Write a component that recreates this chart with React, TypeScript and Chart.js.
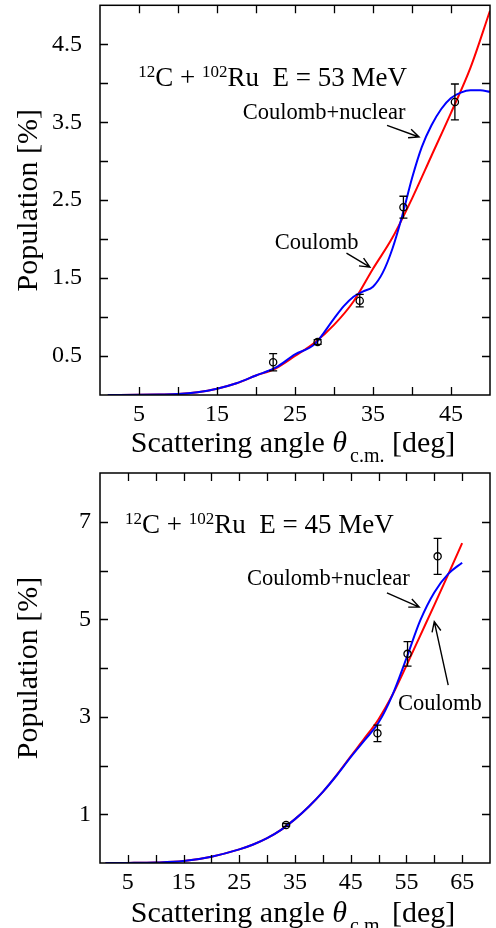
import React, { useEffect, useRef } from 'react';
import { Chart, registerables } from 'chart.js';

Chart.register(...registerables);

const FONT = '"Liberation Serif", "Times New Roman", Times, serif';

// ---------- Top panel (E = 53 MeV) ----------
const topCoulombAngles = [1, 2.5, 5, 7.5, 10, 12.5, 15, 17.5, 20, 22.5, 25, 27.5, 30, 32.5, 35, 37.5, 40, 42.5, 45, 47.5, 50];
const topCoulombValues = [0, 0, 0.002, 0.006, 0.012, 0.035, 0.08, 0.15, 0.25, 0.34, 0.5, 0.67, 0.9, 1.2, 1.62, 2.02, 2.52, 3.07, 3.62, 4.2, 4.93];
const topNuclearAngles = [1, 2.5, 5, 7.5, 10, 12.5, 15, 17.5, 20, 22.5, 25, 27.5, 30, 31.25, 32.5, 33.75, 35, 36.25, 37.5, 38.75, 40, 41.25, 42.5, 43.75, 45, 46.25, 47.5, 48.75, 50];
const topNuclearValues = [0, 0, 0.002, 0.006, 0.012, 0.035, 0.08, 0.15, 0.25, 0.35, 0.52, 0.65, 0.98, 1.14, 1.26, 1.33, 1.39, 1.57, 1.88, 2.3, 2.78, 3.18, 3.46, 3.67, 3.81, 3.88, 3.91, 3.91, 3.89];
const topExpAngles = [22.2, 27.9, 33.3, 38.9, 45.5];
const topExpValues = [0.42, 0.68, 1.21, 2.41, 3.76];
const topExpErrors = [0.11, 0.03, 0.08, 0.14, 0.23];

// ---------- Bottom panel (E = 45 MeV) ----------
const botCoulombAngles = [1, 5, 10, 15, 20, 25, 27.5, 30, 32.5, 35, 37.5, 40, 42.5, 45, 47.5, 50, 52.5, 55, 57.5, 60, 62.5, 65];
const botCoulombValues = [0, 0.002, 0.01, 0.04, 0.13, 0.28, 0.38, 0.51, 0.68, 0.9, 1.16, 1.46, 1.81, 2.19, 2.56, 2.95, 3.45, 4.05, 4.67, 5.29, 5.92, 6.56];
const botNuclearAngles = [1, 5, 10, 15, 20, 25, 27.5, 30, 32.5, 35, 37.5, 40, 42.5, 45, 47.5, 50, 52.5, 55, 57.5, 60, 62.5, 65];
const botNuclearValues = [0, 0.002, 0.01, 0.04, 0.13, 0.28, 0.38, 0.51, 0.68, 0.9, 1.16, 1.46, 1.8, 2.17, 2.52, 2.88, 3.45, 4.2, 4.98, 5.55, 5.93, 6.16];
const botExpAngles = [33.4, 49.8, 55.2, 60.6];
const botExpValues = [0.78, 2.66, 4.29, 6.29];
const botExpErrors = [0.03, 0.17, 0.25, 0.37];

// ---------- Axis / tick labels ----------
const topXTickLabels = ['5', '15', '25', '35', '45'];
const topYTickLabels = ['0.5', '1.5', '2.5', '3.5', '4.5'];
const botXTickLabels = ['5', '15', '25', '35', '45', '55', '65'];
const botYTickLabels = ['1', '3', '5', '7'];
const xTitleMain = 'Scattering angle ';
const xTitleSymbol = 'θ';
const xTitleSub = 'c.m.';
const xTitleUnit = ' [deg]';
const yTitle = 'Population [%]';
const labelCoulomb = 'Coulomb';
const labelNuclear = 'Coulomb+nuclear';

type Annot = { text: string; x: number; y: number };
type Arrow = { x1: number; y1: number; x2: number; y2: number };

type PanelCfg = {
  height: number;
  xMax: number;
  yMax: number;
  yStep: number;
  xLabels: string[];
  yLabels: string[];
  energy: string;
  titlePos: { x: number; y: number };
  annots: Annot[];
  arrows: Arrow[];
  coulomb: { x: number; y: number }[];
  nuclear: { x: number; y: number }[];
  exp: { x: number; y: number }[];
  errs: number[];
  padTop: number;
  xAxisH: number;
  yTickPad: number;
  titleOffset: number;
};

const zip = (xs: number[], ys: number[]) => xs.map((x, i) => ({ x, y: ys[i] }));

const topCfg: PanelCfg = {
  height: 464,
  xMax: 50,
  yMax: 5,
  yStep: 0.5,
  xLabels: topXTickLabels,
  yLabels: topYTickLabels,
  energy: 'E = 53 MeV',
  titlePos: { x: 4.9, y: 3.96 },
  annots: [
    { text: labelNuclear, x: 18.3, y: 3.54 },
    { text: labelCoulomb, x: 22.4, y: 1.87 },
  ],
  arrows: [
    { x1: 36.8, y1: 3.46, x2: 40.9, y2: 3.31 },
    { x1: 31.6, y1: 1.82, x2: 34.6, y2: 1.64 },
  ],
  coulomb: zip(topCoulombAngles, topCoulombValues),
  nuclear: zip(topNuclearAngles, topNuclearValues),
  exp: zip(topExpAngles, topExpValues),
  errs: topExpErrors,
  padTop: 4,
  xAxisH: 69,
  yTickPad: 18,
  titleOffset: 57,
};

const botCfg: PanelCfg = {
  height: 464,
  xMax: 70,
  yMax: 8,
  yStep: 1,
  xLabels: botXTickLabels,
  yLabels: botYTickLabels,
  energy: 'E = 45 MeV',
  titlePos: { x: 4.5, y: 6.77 },
  annots: [
    { text: labelNuclear, x: 26.4, y: 5.7 },
    { text: labelCoulomb, x: 53.5, y: 3.14 },
  ],
  arrows: [
    { x1: 51.5, y1: 5.54, x2: 57.3, y2: 5.25 },
    { x1: 62.5, y1: 3.65, x2: 60.0, y2: 4.95 },
  ],
  coulomb: zip(botCoulombAngles, botCoulombValues),
  nuclear: zip(botNuclearAngles, botNuclearValues),
  exp: zip(botExpAngles, botExpValues),
  errs: botExpErrors,
  padTop: 9,
  xAxisH: 65,
  yTickPad: 9,
  titleOffset: 59,
};

function makeFramePlugin(cfg: PanelCfg) {
  return {
    id: 'framePlugin',
    afterDatasetsDraw(chart: any) {
      const ctx = chart.ctx as CanvasRenderingContext2D;
      const xs = chart.scales.x;
      const ys = chart.scales.y;
      // error bars
      ctx.save();
      ctx.strokeStyle = '#000';
      ctx.lineWidth = 1.3;
      cfg.exp.forEach((p, i) => {
        const px = xs.getPixelForValue(p.x);
        const pTop = ys.getPixelForValue(p.y + cfg.errs[i]);
        const pBot = ys.getPixelForValue(p.y - cfg.errs[i]);
        const cap = 4;
        ctx.beginPath();
        ctx.moveTo(px, pTop);
        ctx.lineTo(px, pBot);
        ctx.moveTo(px - cap, pTop);
        ctx.lineTo(px + cap, pTop);
        ctx.moveTo(px - cap, pBot);
        ctx.lineTo(px + cap, pBot);
        ctx.stroke();
      });
      ctx.restore();
    },
    afterDraw(chart: any) {
      const ctx = chart.ctx as CanvasRenderingContext2D;
      const xs = chart.scales.x;
      const ys = chart.scales.y;
      const a = chart.chartArea;
      ctx.save();
      ctx.strokeStyle = '#000';
      ctx.lineWidth = 1.5;
      ctx.strokeRect(a.left, a.top, a.right - a.left, a.bottom - a.top);
      const tl = 8;
      ctx.lineWidth = 1.3;
      ctx.beginPath();
      xs.ticks.forEach((t: any) => {
        const px = Math.round(xs.getPixelForValue(t.value)) + 0.5;
        if (px <= a.left + 1 || px >= a.right - 1) return;
        ctx.moveTo(px, a.bottom);
        ctx.lineTo(px, a.bottom - tl);
        ctx.moveTo(px, a.top);
        ctx.lineTo(px, a.top + tl);
      });
      ys.ticks.forEach((t: any) => {
        const py = Math.round(ys.getPixelForValue(t.value)) + 0.5;
        if (py <= a.top + 1 || py >= a.bottom - 1) return;
        ctx.moveTo(a.left, py);
        ctx.lineTo(a.left + tl, py);
        ctx.moveTo(a.right, py);
        ctx.lineTo(a.right - tl, py);
      });
      ctx.stroke();

      ctx.fillStyle = '#000';
      ctx.textBaseline = 'alphabetic';
      // x-axis title with italic theta and subscript
      const mainF = `30px ${FONT}`;
      const italF = `italic 30px ${FONT}`;
      const subF = `20px ${FONT}`;
      ctx.font = mainF;
      const w1 = ctx.measureText(xTitleMain).width;
      const w4 = ctx.measureText(xTitleUnit).width;
      ctx.font = italF;
      const w2 = ctx.measureText(xTitleSymbol).width;
      ctx.font = subF;
      const w3 = ctx.measureText(xTitleSub).width;
      const total = w1 + w2 + 3 + w3 + w4;
      let x0 = (a.left + a.right) / 2 - total / 2 - 2;
      const by = a.bottom + cfg.titleOffset;
      ctx.textAlign = 'left';
      ctx.font = mainF;
      ctx.fillText(xTitleMain, x0, by);
      x0 += w1;
      ctx.font = italF;
      ctx.fillText(xTitleSymbol, x0, by);
      x0 += w2 + 3;
      ctx.font = subF;
      ctx.fillText(xTitleSub, x0, by + 10);
      x0 += w3;
      ctx.font = mainF;
      ctx.fillText(xTitleUnit, x0, by);

      // y-axis title
      ctx.save();
      ctx.translate(37, (a.top + a.bottom) / 2);
      ctx.rotate(-Math.PI / 2);
      ctx.textAlign = 'center';
      ctx.font = mainF;
      ctx.fillText(yTitle, 0, 0);
      ctx.restore();

      // reaction label with superscripts
      const tx = xs.getPixelForValue(cfg.titlePos.x);
      const ty = ys.getPixelForValue(cfg.titlePos.y);
      const bigF = `27px ${FONT}`;
      const supF = `17px ${FONT}`;
      const parts: [string, string, number][] = [
        ['12', supF, -9],
        ['C + ', bigF, 0],
        ['102', supF, -9],
        ['Ru  ', bigF, 0],
        [cfg.energy, bigF, 0],
      ];
      let cx = tx;
      ctx.textAlign = 'left';
      parts.forEach(([s, f, dy]) => {
        ctx.font = f;
        ctx.fillText(s, cx, ty + dy);
        cx += ctx.measureText(s).width;
      });

      // curve annotations
      ctx.font = `22.5px ${FONT}`;
      cfg.annots.forEach((an) => {
        ctx.fillText(an.text, xs.getPixelForValue(an.x), ys.getPixelForValue(an.y));
      });

      // arrows
      ctx.lineWidth = 1.4;
      cfg.arrows.forEach((ar) => {
        const x1 = xs.getPixelForValue(ar.x1);
        const y1 = ys.getPixelForValue(ar.y1);
        const x2 = xs.getPixelForValue(ar.x2);
        const y2 = ys.getPixelForValue(ar.y2);
        const ang = Math.atan2(y2 - y1, x2 - x1);
        const hl = 11;
        const spread = 0.42;
        ctx.beginPath();
        ctx.moveTo(x1, y1);
        ctx.lineTo(x2, y2);
        ctx.moveTo(x2 - hl * Math.cos(ang - spread), y2 - hl * Math.sin(ang - spread));
        ctx.lineTo(x2, y2);
        ctx.lineTo(x2 - hl * Math.cos(ang + spread), y2 - hl * Math.sin(ang + spread));
        ctx.stroke();
      });
      ctx.restore();
    },
  };
}

const zeroPad = (s: any) => {
  s.paddingTop = 0;
  s.paddingBottom = 0;
  s.paddingLeft = 0;
  s.paddingRight = 0;
};

function Panel({ cfg }: { cfg: PanelCfg }) {
  const ref = useRef<HTMLCanvasElement | null>(null);
  useEffect(() => {
    if (!ref.current) return;
    const chart = new Chart(ref.current, {
      type: 'scatter',
      data: {
        datasets: [
          {
            label: labelCoulomb,
            data: cfg.coulomb,
            showLine: true,
            borderColor: '#ff0000',
            borderWidth: 2,
            pointRadius: 0,
            cubicInterpolationMode: 'monotone',
            order: 2,
          } as any,
          {
            label: labelNuclear,
            data: cfg.nuclear,
            showLine: true,
            borderColor: '#0000ff',
            borderWidth: 2,
            pointRadius: 0,
            cubicInterpolationMode: 'monotone',
            order: 1,
          } as any,
          {
            label: 'Experiment',
            data: cfg.exp,
            showLine: false,
            pointRadius: 3.6,
            pointBorderColor: '#000',
            pointBackgroundColor: 'rgba(0,0,0,0)',
            pointBorderWidth: 1.3,
            order: 0,
          } as any,
        ],
      },
      options: {
        animation: false,
        responsive: false,
        maintainAspectRatio: false,
        events: [],
        layout: { padding: { left: 0, right: 6, top: cfg.padTop, bottom: 0 } },
        plugins: { legend: { display: false }, tooltip: { enabled: false } },
        scales: {
          x: {
            type: 'linear',
            min: 0,
            max: cfg.xMax,
            afterBuildTicks: (s: any) => {
              const t = [];
              for (let v = 0; v <= cfg.xMax; v += 5) t.push({ value: v });
              s.ticks = t;
            },
            ticks: {
              autoSkip: false,
              maxRotation: 0,
              padding: 5,
              color: '#000',
              font: { family: FONT, size: 24 },
              callback: (v: any) => {
                const s = String(v);
                return cfg.xLabels.includes(s) ? s : '';
              },
            },
            grid: { display: false, drawTicks: false },
            border: { display: false },
            afterFit: (s: any) => {
              s.height = cfg.xAxisH;
              zeroPad(s);
            },
          },
          y: {
            type: 'linear',
            min: 0,
            max: cfg.yMax,
            ticks: {
              stepSize: cfg.yStep,
              autoSkip: false,
              padding: cfg.yTickPad,
              color: '#000',
              font: { family: FONT, size: 24 },
              callback: (v: any) => {
                const s = cfg.yStep < 1 ? Number(v).toFixed(1) : String(v);
                return cfg.yLabels.includes(s) ? s : '';
              },
            },
            grid: { display: false, drawTicks: false },
            border: { display: false },
            afterFit: (s: any) => {
              s.width = 100;
              zeroPad(s);
            },
          },
        },
      } as any,
      plugins: [makeFramePlugin(cfg)],
    });
    return () => chart.destroy();
  }, [cfg]);
  return <canvas ref={ref} width={496} height={cfg.height} style={{ display: 'block', width: 496, height: cfg.height }} />;
}

export default function App() {
  return (
    <div style={{ position: 'absolute', left: 0, top: 0, width: 496, height: 928, background: '#fff' }}>
      <Panel cfg={topCfg} />
      <Panel cfg={botCfg} />
    </div>
  );
}
